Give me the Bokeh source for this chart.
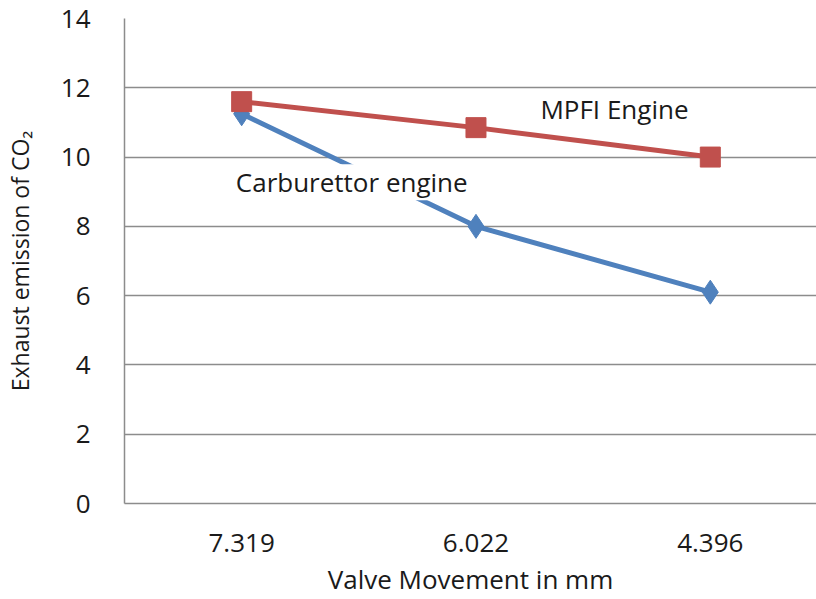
from bokeh.plotting import figure
from bokeh.models import FixedTicker, Range1d, Label
from bokeh.embed import file_html
from bokeh.resources import INLINE

categories = ["7.319", "6.022", "4.396"]
mpfi = [11.6, 10.85, 10.0]
carb = [11.25, 8.0, 6.1]
y_ticks = [0, 2, 4, 6, 8, 10, 12, 14]

xs = [i + 0.5 for i in range(len(categories))]

FONT = "Open Sans"
TXT = "#1a1a1a"
GRID = "#8c8c8c"

p = figure(width=816, height=599, output_backend="svg", toolbar_location=None,
           x_range=Range1d(0, 694 / 235), y_range=Range1d(0, 14),
           min_border_left=122, min_border_right=0, min_border_top=18,
           min_border_bottom=96)
p.outline_line_color = None
p.background_fill_color = "white"

p.xgrid.visible = False
p.ygrid.ticker = FixedTicker(ticks=y_ticks)
p.ygrid.grid_line_color = GRID
p.ygrid.grid_line_width = 1.5

p.yaxis.ticker = FixedTicker(ticks=y_ticks)
p.xaxis.ticker = FixedTicker(ticks=xs)
p.xaxis.major_label_overrides = {x: c for x, c in zip(xs, categories)}

for ax in (p.xaxis[0], p.yaxis[0]):
    ax.axis_line_color = GRID
    ax.axis_line_width = 1.5
    ax.major_tick_line_color = None
    ax.minor_tick_line_color = None
    ax.major_label_text_font = FONT
    ax.major_label_text_font_size = "26px"
    ax.major_label_text_color = TXT
    ax.axis_label_text_font = FONT
    ax.axis_label_text_font_style = "normal"
    ax.axis_label_text_color = TXT

p.yaxis.axis_label_text_font_size = "23px"
p.xaxis.axis_label_text_font_size = "26px"
p.yaxis.major_label_standoff = 28
p.xaxis.major_label_standoff = 24
p.yaxis.axis_label = "Exhaust emission of CO\u2082"
p.xaxis.axis_label = "Valve Movement in mm"
p.yaxis.axis_label_standoff = 22
p.xaxis.axis_label_standoff = 6

BLUE = "#4F81BD"
RED = "#C0504D"

p.line(xs, carb, line_color=BLUE, line_width=5)
p.scatter(xs, carb, marker="diamond", size=24, fill_color=BLUE, line_color=BLUE)

p.line(xs, mpfi, line_color=RED, line_width=5)
p.scatter(xs, mpfi, marker="square", size=20, fill_color=RED, line_color=RED)

p.add_layout(Label(x=0.475, y=9.27, text="Carburettor engine", text_font=FONT,
                   text_font_size="26px", text_color=TXT, text_baseline="middle",
                   background_fill_color="white", border_line_color=None))
p.add_layout(Label(x=1.775, y=11.4, text="MPFI Engine", text_font=FONT,
                   text_font_size="26px", text_color=TXT, text_baseline="middle"))

open("out.html", "w").write(file_html(p, INLINE))
